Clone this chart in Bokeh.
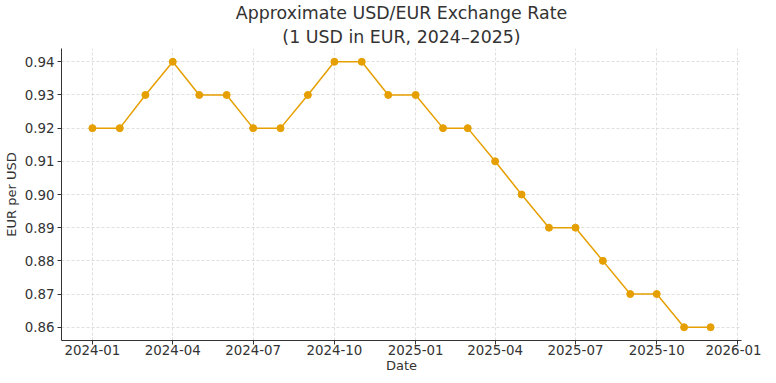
import pandas as pd
from bokeh.plotting import figure
from bokeh.models import (Range1d, FixedTicker, DatetimeTickFormatter, NumeralTickFormatter,
                          Title, ColumnDataSource)
from bokeh.embed import file_html
from bokeh.resources import INLINE

dates = ["2024-01-01", "2024-02-01", "2024-03-01", "2024-04-01", "2024-05-01", "2024-06-01",
         "2024-07-01", "2024-08-01", "2024-09-01", "2024-10-01", "2024-11-01", "2024-12-01",
         "2025-01-01", "2025-02-01", "2025-03-01", "2025-04-01", "2025-05-01", "2025-06-01",
         "2025-07-01", "2025-08-01", "2025-09-01", "2025-10-01", "2025-11-01", "2025-12-01"]
rates = [0.92, 0.92, 0.93, 0.94, 0.93, 0.93,
         0.92, 0.92, 0.93, 0.94, 0.94, 0.93,
         0.93, 0.92, 0.92, 0.91, 0.90, 0.89,
         0.89, 0.88, 0.87, 0.87, 0.86, 0.86]
x_ticks = ["2024-01-01", "2024-04-01", "2024-07-01", "2024-10-01", "2025-01-01",
           "2025-04-01", "2025-07-01", "2025-10-01", "2026-01-01"]
y_ticks = [0.86, 0.87, 0.88, 0.89, 0.90, 0.91, 0.92, 0.93, 0.94]

title1 = "Approximate USD/EUR Exchange Rate"
title2 = "(1 USD in EUR, 2024–2025)"

FONT = "DejaVu Sans"
TXT = "#333333"

d = pd.to_datetime(dates)
src = ColumnDataSource(dict(x=d, y=rates))

span = d[-1] - d[0]
xr = Range1d(start=d[0] - 0.05 * span, end=d[-1] + 0.05 * span)
ys = max(rates) - min(rates)
yr = Range1d(start=min(rates) - 0.05 * ys, end=max(rates) + 0.05 * ys)

p = figure(frame_width=680, frame_height=292, x_axis_type="datetime", x_range=xr, y_range=yr,
           output_backend="svg", toolbar_location=None,
           min_border_left=52, min_border_right=20, min_border_top=0, min_border_bottom=0)
p.outline_line_color = None

p.title.text = title1
p.title.align = "center"
p.title.text_font = FONT
p.title.text_font_size = "17.4px"
p.title.text_font_style = "normal"
p.title.text_color = TXT
p.title.standoff = 0
p.add_layout(Title(text=title2, align="center", text_font=FONT, text_font_size="17.4px",
                   text_font_style="normal", text_color=TXT, standoff=4), "above")

p.line("x", "y", source=src, line_color="#E69F00", line_width=1.5)
p.scatter("x", "y", source=src, size=7, fill_color="#E69F00", line_color="#E69F00")

tick_ms = [pd.Timestamp(t).value / 1e6 for t in x_ticks]
p.xaxis.ticker = FixedTicker(ticks=tick_ms)
fmt = "%Y-%m"
p.xaxis.formatter = DatetimeTickFormatter(years=fmt, months=fmt, days=fmt, hours=fmt,
                                          minutes=fmt, seconds=fmt, milliseconds=fmt,
                                          hourmin=fmt, minsec=fmt, microseconds=fmt,
                                          strip_leading_zeros=False)
p.yaxis.ticker = FixedTicker(ticks=y_ticks)
p.yaxis.formatter = NumeralTickFormatter(format="0.00")

p.xaxis.axis_label = "Date"
p.yaxis.axis_label = "EUR per USD"
for ax in (p.xaxis, p.yaxis):
    ax.axis_label_text_font = FONT
    ax.axis_label_text_font_size = "13px"
    ax.axis_label_text_font_style = "normal"
    ax.axis_label_text_color = TXT
    ax.major_label_text_font = FONT
    ax.major_label_text_font_size = "13.4px"
    ax.major_label_text_color = TXT
    ax.axis_line_color = "#333333"
    ax.axis_line_width = 1
    ax.major_tick_line_color = "#333333"
    ax.major_tick_out = 4
    ax.major_tick_in = 0
    ax.minor_tick_line_color = None
p.yaxis.major_label_standoff = 3
p.yaxis.axis_label_standoff = 3
p.xaxis.major_label_standoff = 0
p.xaxis.axis_label_standoff = 0

for g in (p.xgrid, p.ygrid):
    g.grid_line_color = "#cccccc"
    g.grid_line_dash = "3 2"
    g.grid_line_width = 0.7
    g.grid_line_alpha = 0.9

open("out.html", "w").write(file_html(p, INLINE))
